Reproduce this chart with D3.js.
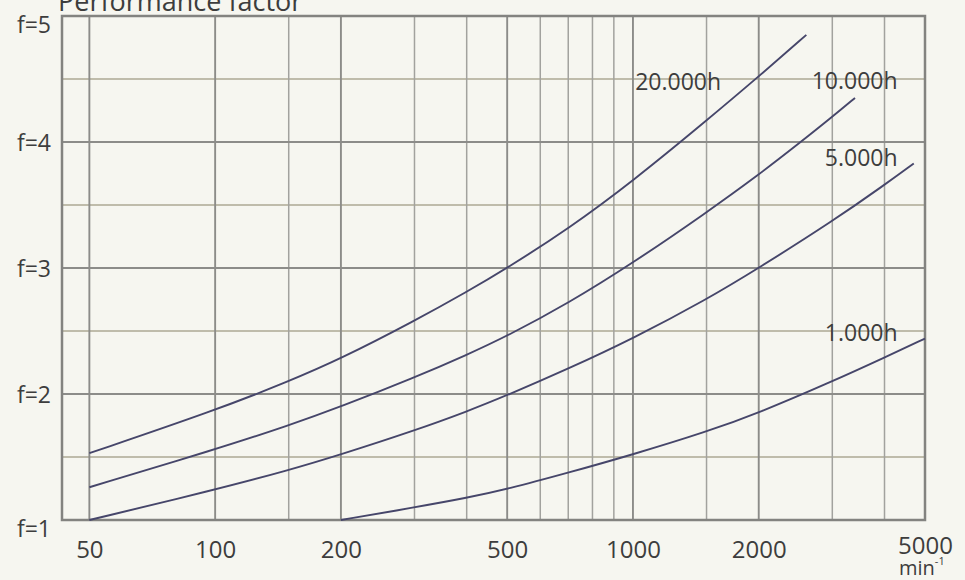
<!DOCTYPE html>
<html>
<head>
<meta charset="utf-8">
<script src="https://cdn.jsdelivr.net/npm/d3@7/dist/d3.min.js"></script>
<style>
  html, body { margin: 0; padding: 0; background: #f6f6f0; }
  svg { display: block; }
  text { font-family: "Open Sans", "Noto Sans", sans-serif; fill: #3d3d3d; }
</style>
</head>
<body>
<svg id="chart" width="965" height="580"></svg>
<script>
// ---- data ----
const title = "Performance factor";
const xTickValues = [50, 100, 200, 500, 1000, 2000, 5000];
const xTickLabels = ["50", "100", "200", "500", "1000", "2000", "5000"];
const xGridMajor = [50, 100, 200, 500, 1000, 2000];
const xGridMinor = [150, 300, 400, 600, 700, 800, 900, 1500, 3000, 4000];
const yTickValues = [1, 2, 3, 4, 5];
const yTickLabels = ["f=1", "f=2", "f=3", "f=4", "f=5"];
const yGridMinor = [1.5, 2.5, 3.5, 4.5];
const unitLabel = "min";
const unitExp = "-1";

const seriesNames = ["20.000h", "10.000h", "5.000h", "1.000h"];
const rpm20k = [50, 100, 150, 200, 300, 400, 500, 700, 1000, 1500, 2000, 2600];
const f20k   = [1.53, 1.87, 2.10, 2.28, 2.58, 2.81, 3.00, 3.31, 3.69, 4.17, 4.52, 4.85];
const rpm10k = [50, 100, 150, 200, 300, 400, 500, 700, 1000, 1500, 2000, 2500, 3000, 3400];
const f10k   = [1.26, 1.56, 1.75, 1.90, 2.13, 2.31, 2.46, 2.72, 3.04, 3.44, 3.74, 3.99, 4.20, 4.35];
const rpm5k  = [50, 100, 150, 200, 300, 400, 500, 700, 1000, 1500, 2000, 3000, 4000, 4700];
const f5k    = [1.00, 1.24, 1.395, 1.52, 1.71, 1.86, 1.99, 2.20, 2.44, 2.75, 3.00, 3.37, 3.66, 3.83];
const rpm1k  = [200, 300, 400, 500, 700, 1000, 1500, 2000, 3000, 4000, 5000];
const f1k    = [1.00, 1.10, 1.175, 1.245, 1.375, 1.52, 1.70, 1.85, 2.10, 2.29, 2.44];

// ---- layout ----
const svg = d3.select("#chart");
const pL = 62, pR = 925, pT = 16, pB = 520;
const x = d3.scaleLog().domain([43, 5000]).range([pL, pR]);
const y = d3.scaleLinear().domain([1, 5]).range([pB, pT]);

// title (cut off at top)
svg.append("text").attr("x", 58).attr("y", 11)
  .attr("font-size", 27).attr("fill", "#4a4a4a").text(title);

const grid = svg.append("g");
grid.append("g").selectAll("line").data(yGridMinor).join("line")
  .attr("x1", pL).attr("x2", pR)
  .attr("y1", d => y(d)).attr("y2", d => y(d))
  .attr("stroke", "#aca894").attr("stroke-width", 1.4);
grid.append("g").selectAll("line").data(xGridMinor).join("line")
  .attr("x1", d => x(d)).attr("x2", d => x(d))
  .attr("y1", pT).attr("y2", pB)
  .attr("stroke", "#a2a29e").attr("stroke-width", 1.5);
grid.append("g").selectAll("line").data(xGridMajor).join("line")
  .attr("x1", d => x(d)).attr("x2", d => x(d))
  .attr("y1", pT).attr("y2", pB)
  .attr("stroke", "#8c8c89").attr("stroke-width", 1.9);
grid.append("g").selectAll("line").data([2, 3, 4]).join("line")
  .attr("x1", pL).attr("x2", pR)
  .attr("y1", d => y(d)).attr("y2", d => y(d))
  .attr("stroke", "#8c8c89").attr("stroke-width", 1.9);

// frame
svg.append("rect").attr("x", pL).attr("y", pT)
  .attr("width", pR - pL).attr("height", pB - pT)
  .attr("fill", "none").attr("stroke", "#838380").attr("stroke-width", 2.5);

// axes (labels only)
const xAxis = d3.axisBottom(x).tickValues(xTickValues)
  .tickFormat((d, i) => xTickLabels[i]).tickSize(0).tickPadding(0);
const gx = svg.append("g").attr("transform", `translate(0,${pB})`).call(xAxis);
gx.select(".domain").remove();
gx.selectAll("text").attr("font-size", 24).attr("fill", "#3d3d3d")
  .attr("dy", null).attr("y", 38)
  .attr("font-family", "'Open Sans', sans-serif");
gx.selectAll(".tick").filter(d => d === 5000).select("text").attr("y", 34);

const yAxis = d3.axisLeft(y).tickValues(yTickValues)
  .tickFormat((d, i) => yTickLabels[i]).tickSize(0).tickPadding(0);
const gy = svg.append("g").attr("transform", `translate(${pL - 11},0)`).call(yAxis);
gy.select(".domain").remove();
gy.selectAll("text").attr("font-size", 23).attr("fill", "#3d3d3d")
  .attr("font-family", "'Open Sans', sans-serif")
  .attr("dy", d => (d === 5 || d === 1) ? "0.95em" : "0.35em")
  .attr("y", d => (d === 5 || d === 1) ? -5 : 0);

// unit label under 5000
const unit = svg.append("text").attr("x", x(5000) - 26).attr("y", 575)
  .attr("font-size", 20).attr("fill", "#3d3d3d");
unit.append("tspan").text(unitLabel);
unit.append("tspan").attr("font-size", 11).attr("dy", -10).text(unitExp);

// curves
const series = [
  { name: seriesNames[0], xs: rpm20k, ys: f20k },
  { name: seriesNames[1], xs: rpm10k, ys: f10k },
  { name: seriesNames[2], xs: rpm5k,  ys: f5k },
  { name: seriesNames[3], xs: rpm1k,  ys: f1k }
];
const line = d3.line().x(d => x(d[0])).y(d => y(d[1])).curve(d3.curveBasis);
svg.append("g").selectAll("path").data(series).join("path")
  .attr("d", s => line(s.xs.map((v, i) => [v, s.ys[i]])))
  .attr("fill", "none").attr("stroke", "#46466a").attr("stroke-width", 1.9);

// curve labels (positions in data units)
const labelPos = [
  { rpm: 1625, f: 4.41 },
  { rpm: 4300, f: 4.42 },
  { rpm: 4300, f: 3.81 },
  { rpm: 4300, f: 2.42 }
];
svg.append("g").selectAll("text").data(series).join("text")
  .attr("x", (s, i) => x(labelPos[i].rpm))
  .attr("y", (s, i) => y(labelPos[i].f))
  .attr("text-anchor", "end").attr("font-size", 23).attr("fill", "#3d3d3d")
  .text(s => s.name);
</script>
</body>
</html>
